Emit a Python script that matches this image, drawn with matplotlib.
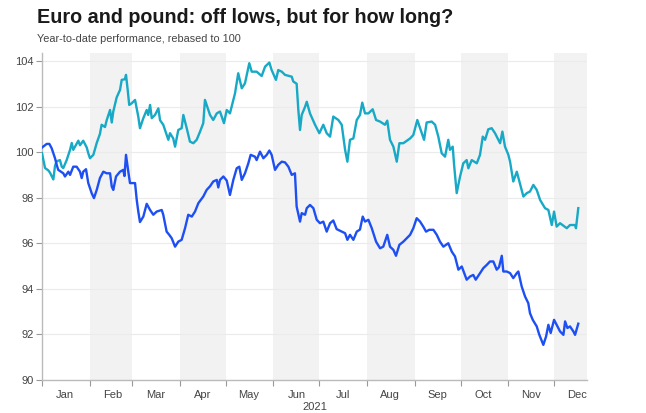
import numpy as np
import pandas as pd
import matplotlib
matplotlib.use("Agg")
from matplotlib import pyplot as plt
import matplotlib.dates as mdates

# pound (cyan) - days since 1 Jan 2021, rebased level
gbp_day = [0, 2, 4.1, 5.2, 7.4, 8.5, 9.6, 11.7, 12.9, 13.9, 16.1, 18.3, 19.4, 20.4, 23.7, 24.8,
           26.9, 29.2, 30.2, 31.3, 33.5, 35.7, 37.8, 38.9, 41.1, 42.2, 44.4, 45.5, 46.5, 48.7,
           50.9, 52, 54.1, 54.8, 55.9, 56.9, 58.5, 60.7, 62.8, 63.9, 66.1, 68.3, 69.3, 70.5,
           71.6, 73.7, 75.9, 77, 79.1, 81.3, 82.4, 83.5, 85.6, 86.8, 88.9, 91.1, 92.2, 94.4,
           96.5, 98.7, 100.9, 103.1, 105.2, 106.3, 109.6, 111.7, 114, 116.1, 118.7, 120.5,
           122.6, 125.9, 128, 130.3, 132.4, 135.2, 136.8, 140, 143.3, 145.5, 148.3, 149.8,
           152.6, 154.1, 156.4, 158.5, 162.9, 163.9, 166.1, 167.2, 168.3, 169.4, 171.6, 172.7,
           174.8, 178.1, 180.9, 183.5, 185.7, 187.9, 190, 193.3, 195.5, 197.7, 199.2, 200.9,
           203.1, 205.3, 207.4, 208.9, 210.7, 212.9, 215.7, 217.9, 220.5, 223.7, 225.2, 227,
           229.2, 231.4, 233.1, 235.7, 240.1, 242.2, 244.8, 247, 249.2, 250.9, 254.2, 256.4,
           258.5, 260.7, 262.9, 265, 266.1, 267.9, 268.8, 270.5, 272.7, 274.8, 277, 278.1,
           280.3, 283.6, 285.7, 287.5, 289, 291.1, 293.3, 295.5, 298.8, 300.3, 302, 304.2,
           305.3, 307.4, 309.7, 314, 316.2, 318.3, 320.5, 322.7, 324.9, 328.1, 330.3, 332.5,
           334, 335.7, 337.9, 342.3, 344.4, 347.7, 348.3, 349.8]
gbp_val = [99.95, 99.3, 99.2, 99.1, 98.8, 99.4, 99.6, 99.65, 99.36, 99.3, 99.65, 100.1, 100.4,
           100.1, 100.5, 100.3, 100.5, 100.2, 99.95, 99.73, 99.88, 100.4, 100.8, 101.2, 101.1,
           101.4, 101.85, 101.3, 101.78, 102.4, 102.73, 103.17, 103.2, 103.39, 102.73, 102.07,
           102.14, 102.29, 101.56, 101.05, 101.49, 101.85, 101.63, 102.07, 101.49, 101.63,
           101.92, 101.4, 101.2, 100.75, 100.54, 100.83, 100.6, 100.24, 100.97, 101.05, 101.63,
           101.05, 100.46, 100.39, 100.54, 100.9, 101.27, 102.29, 101.63, 101.41, 101.7, 101.78,
           101.27, 101.85, 101.7, 102.58, 103.46, 102.8, 103.02, 103.9, 103.53, 103.53, 103.34,
           103.75, 103.93, 103.6, 103.17, 103.6, 103.53, 103.39, 103.31, 103.1, 103.0, 101.85,
           100.97, 101.63, 101.99, 102.21, 101.7, 101.2, 100.83, 101.2, 100.83, 100.68, 101.56,
           101.41, 101.2, 100.1, 99.58, 100.54, 100.6, 101.41, 101.63, 102.17, 101.7, 101.7,
           101.88, 101.41, 101.34, 101.2, 101.38, 100.54, 100.24, 99.58, 100.39, 100.39, 100.6,
           100.75, 101.41, 100.97, 100.54, 101.3, 101.34, 101.2, 100.68, 99.95, 99.8, 100.54,
           100.1, 100.24, 99.44, 98.2, 98.93, 99.51, 99.65, 99.29, 99.65, 99.51, 99.88, 100.68,
           100.54, 101.0, 101.05, 100.83, 100.39, 100.9, 100.24, 99.88, 99.58, 98.71, 99.14,
           98.05, 98.2, 98.27, 98.56, 98.34, 97.9, 97.54, 97.46, 96.8, 97.39, 96.73, 96.88,
           96.66, 96.8, 96.8, 96.66, 97.54]

# euro (blue)
eur_day = [0, 3.1, 4.8, 6.3, 8.5, 9.6, 10.6, 13.9, 15, 17.2, 18.3, 20.4, 22.6, 24.8, 25.9, 26.9,
           28.7, 30.2, 32.4, 33.9, 35.7, 37.8, 40, 42.2, 44.4, 45.5, 46.5, 48.3, 50.9, 53, 53.8,
           54.8, 56.3, 57.4, 59.6, 60.7, 61.8, 62.8, 63.9, 66.1, 68.3, 70.5, 72.6, 74.8, 78.1,
           79.1, 81.3, 83, 84.6, 86.8, 88.9, 91.1, 93.3, 95.4, 97.7, 99.8, 102, 105.2, 107.4,
           109.6, 111.7, 114, 115, 116.1, 118.3, 120.5, 122.6, 124.8, 127, 128.7, 130.3, 132.4,
           134.6, 136.1, 138.9, 140, 142.2, 144.4, 146.6, 148.3, 149.8, 152, 154.1, 156.4, 158.5,
           160.7, 162.9, 165, 166.1, 168.3, 169.4, 171.6, 172.7, 174.8, 177, 179.2, 181.3, 183.5,
           185.7, 187.9, 190, 192.2, 195.5, 197.7, 199.2, 200.9, 203.1, 205.3, 207.4, 209.2,
           210.7, 212.9, 215.1, 217.9, 220.5, 222.6, 225.2, 227, 229.2, 230.9, 233.1, 235.7,
           240.1, 242.2, 244.4, 246.6, 248.7, 250.5, 252.6, 255.3, 257.5, 259.6, 261.8, 265,
           267.3, 269.4, 271.6, 273.8, 277, 279.2, 281.3, 282.9, 285.7, 287.9, 290.1, 292.2,
           294.4, 296.6, 298.1, 299.9, 300.9, 303.1, 305.3, 307.4, 309.7, 310.7, 312.9, 315.1,
           317.2, 318.3, 320.1, 322.7, 324.4, 327, 328.8, 330.3, 331.8, 334, 335.7, 337.9, 340.1,
           341.2, 342.7, 344.4, 346.6, 347.7, 349.8]
eur_val = [100.2, 100.36, 100.36, 100.17, 99.73, 99.44, 99.22, 99.07, 98.93, 99.14, 99.0, 99.36,
           99.36, 99.14, 98.86, 99.14, 99.25, 98.64, 98.2, 97.98, 98.34, 98.86, 99.14, 99.07,
           99.07, 98.49, 98.34, 98.93, 99.14, 99.22, 98.95, 99.88, 99.14, 98.64, 98.64, 98.64,
           97.9, 97.4, 96.93, 97.17, 97.73, 97.46, 97.25, 97.39, 97.46, 97.25, 96.51, 96.37,
           96.22, 95.85, 96.07, 96.15, 96.66, 97.25, 97.17, 97.39, 97.76, 98.05, 98.34, 98.5,
           98.71, 98.78, 98.45, 98.78, 98.93, 98.75, 98.12, 98.78, 99.29, 99.36, 98.78, 99.07,
           99.51, 99.88, 99.8, 99.65, 100.02, 99.73, 99.88, 100.07, 99.88, 99.22, 99.44, 99.58,
           99.55, 99.36, 99.0, 99.07, 97.61, 96.95, 97.32, 97.25, 97.54, 97.68, 97.54, 97.03,
           96.88, 96.95, 96.51, 96.88, 97.0, 96.62, 96.51, 96.44, 96.15, 96.37, 96.15, 96.51,
           96.6, 97.17, 96.95, 97.03, 96.66, 96.07, 95.78, 95.85, 96.37, 95.85, 95.71, 95.45,
           95.93, 96.07, 96.37, 96.66, 97.1, 96.95, 96.73, 96.51, 96.59, 96.59, 96.37, 96.07,
           95.85, 96.0, 95.63, 95.42, 94.84, 94.98, 94.4, 94.54, 94.61, 94.4, 94.69, 94.91,
           95.05, 95.2, 95.2, 94.84, 94.95, 95.45, 94.76, 94.76, 94.69, 94.47, 94.69, 94.76,
           94.1, 93.66, 93.37, 92.93, 92.64, 92.35, 91.98, 91.54, 91.91, 92.42, 92.06, 92.64,
           92.42, 92.13, 91.98, 92.57, 92.28, 92.35, 92.13, 91.98, 92.47]

shaded_months = [2, 4, 6, 8, 10, 12]
yticks = [90, 92, 94, 96, 98, 100, 102, 104]

plt.rcParams['font.family'] = ['Liberation Sans', 'DejaVu Sans']

start = pd.Timestamp("2021-01-01")
gbp_x = start + pd.to_timedelta(gbp_day, unit="D")
eur_x = start + pd.to_timedelta(eur_day, unit="D")
x_end = pd.Timestamp("2021-12-22 12:00")

fig = plt.figure(figsize=(6.46, 4.13), dpi=100)
ax = fig.add_axes([0.065, 0.080, 0.8437, 0.7917])

# alternate month bands
for m in shaded_months:
    a = pd.Timestamp(2021, m, 1)
    b = min(a + pd.offsets.MonthBegin(1), x_end)
    ax.axvspan(a, b, color="#f2f2f2", lw=0, zorder=0)

ax.grid(axis="y", color="#ebebeb", lw=0.8, zorder=1)

ax.plot(gbp_x, gbp_val, color="#17a9c6", lw=1.7, zorder=3, solid_joinstyle="round")
ax.plot(eur_x, eur_val, color="#1d4ff2", lw=1.7, zorder=3, solid_joinstyle="round")

ax.set_xlim(start, x_end)
ax.set_ylim(90, 104.35)
ax.set_yticks(yticks)

ax.xaxis.set_major_locator(mdates.MonthLocator())
ax.xaxis.set_major_formatter(plt.NullFormatter())
ax.xaxis.set_minor_locator(mdates.MonthLocator(bymonthday=16))
ax.xaxis.set_minor_formatter(mdates.DateFormatter("%b"))
ax.tick_params(axis="x", which="major", length=4, color="#999999")
ax.tick_params(axis="x", which="minor", length=0, pad=7, labelsize=8, labelcolor="#444444")
ax.tick_params(axis="y", length=4, color="#999999", labelsize=8, labelcolor="#444444", pad=2)

for side in ["top", "right"]:
    ax.spines[side].set_visible(False)
for side in ["left", "bottom"]:
    ax.spines[side].set_color("#bbbbbb")
    ax.spines[side].set_linewidth(1)

fig.text(0.058, 0.958, "Euro and pound: off lows, but for how long?", fontsize=14.2,
         fontweight="bold", color="#1a1a1a", va="center")
fig.text(0.058, 0.905, "Year-to-date performance, rebased to 100", fontsize=7.8,
         color="#444444", va="center")
fig.text(0.4876, 0.015, "2021", fontsize=8, color="#444444", ha="center", va="center")

fig.savefig("out.png", dpi=100)
